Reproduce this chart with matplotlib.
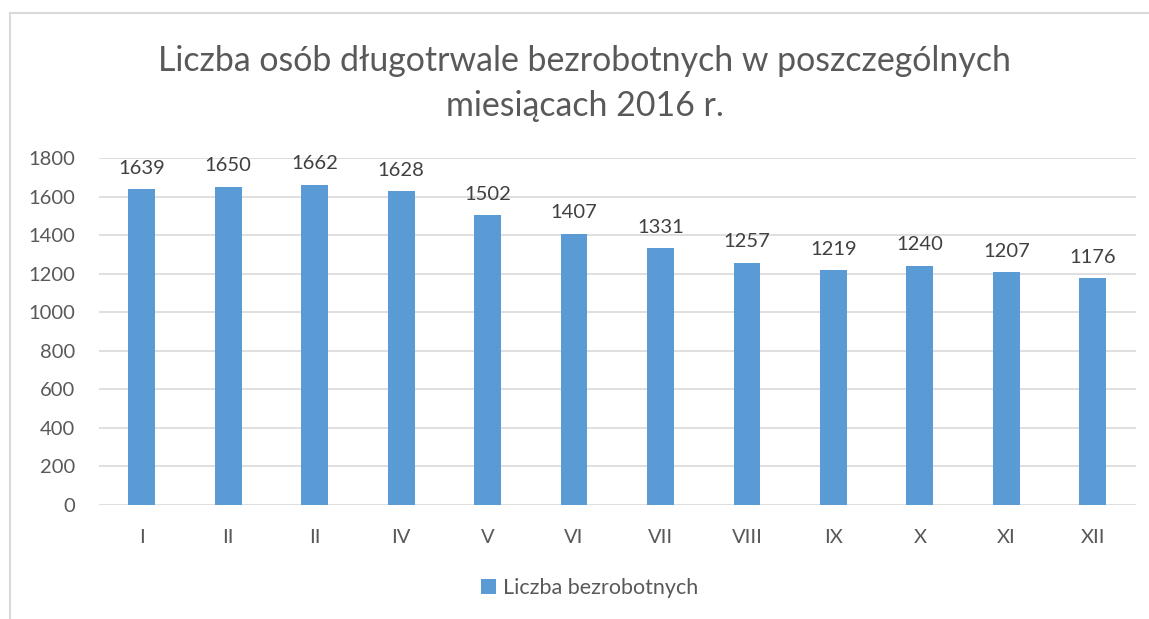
"""Bar chart: long-term unemployed persons per month, 2016."""
import matplotlib
matplotlib.use("Agg")
import matplotlib.pyplot as plt
from matplotlib.lines import Line2D

months = ["I", "II", "II", "IV", "V", "VI", "VII", "VIII", "IX", "X", "XI", "XII"]
unemployed = [1639, 1650, 1662, 1628, 1502, 1407, 1331, 1257, 1219, 1240, 1207, 1176]

BAR = "#5B9BD5"
GRAY = "#595959"
DARK = "#404040"
GRID = "#D9D9D9"

plt.rcParams["font.family"] = ["Lato", "DejaVu Sans"]

W, H = 1149, 619
fig = plt.figure(figsize=(W / 100, H / 100), dpi=100)
ax = fig.add_axes([98.5 / W, 1 - 505 / H, (1136 - 98.5) / W, (505 - 158) / H])

x = range(len(months))
bars = ax.bar(x, unemployed, width=0.31, color=BAR, label="Liczba bezrobotnych", zorder=3)
ax.bar_label(bars, labels=[str(v) for v in unemployed], padding=9,
             fontsize=14.5, color=DARK)

ax.set_xlim(-0.5, len(months) - 0.5)
ax.set_ylim(0, 1800)
ax.set_yticks(range(0, 1801, 200))
ax.set_xticks(list(x))
ax.set_xticklabels(months)
ax.grid(axis="y", color=GRID, linewidth=1.2, zorder=0)
for s in ax.spines.values():
    s.set_visible(False)
ax.tick_params(axis="both", length=0, labelsize=14.5, labelcolor=GRAY)
ax.tick_params(axis="y", pad=17)
ax.tick_params(axis="x", pad=17)

fig.text(585 / W, 1 - 61 / H, "Liczba osób długotrwale bezrobotnych w poszczególnych",
         ha="center", va="center", fontsize=24.4, color=GRAY)
fig.text(585 / W, 1 - 106 / H, "miesiącach 2016 r.",
         ha="center", va="center", fontsize=24.4, color=GRAY)

fig.legend(loc="center", bbox_to_anchor=(589.5 / W, 1 - 588 / H), frameon=False,
           fontsize=15.5, labelcolor=GRAY, handlelength=0.7, handleheight=0.7,
           handletextpad=0.35)

# chart-area border (only top and left edges visible in the crop)
fig.add_artist(Line2D([10 / W, 1], [1 - 13 / H, 1 - 13 / H], transform=fig.transFigure,
                      color=GRID, linewidth=1.5))
fig.add_artist(Line2D([10 / W, 10 / W], [0, 1 - 13 / H], transform=fig.transFigure,
                      color=GRID, linewidth=1.5))

fig.savefig("out.png", dpi=100)
